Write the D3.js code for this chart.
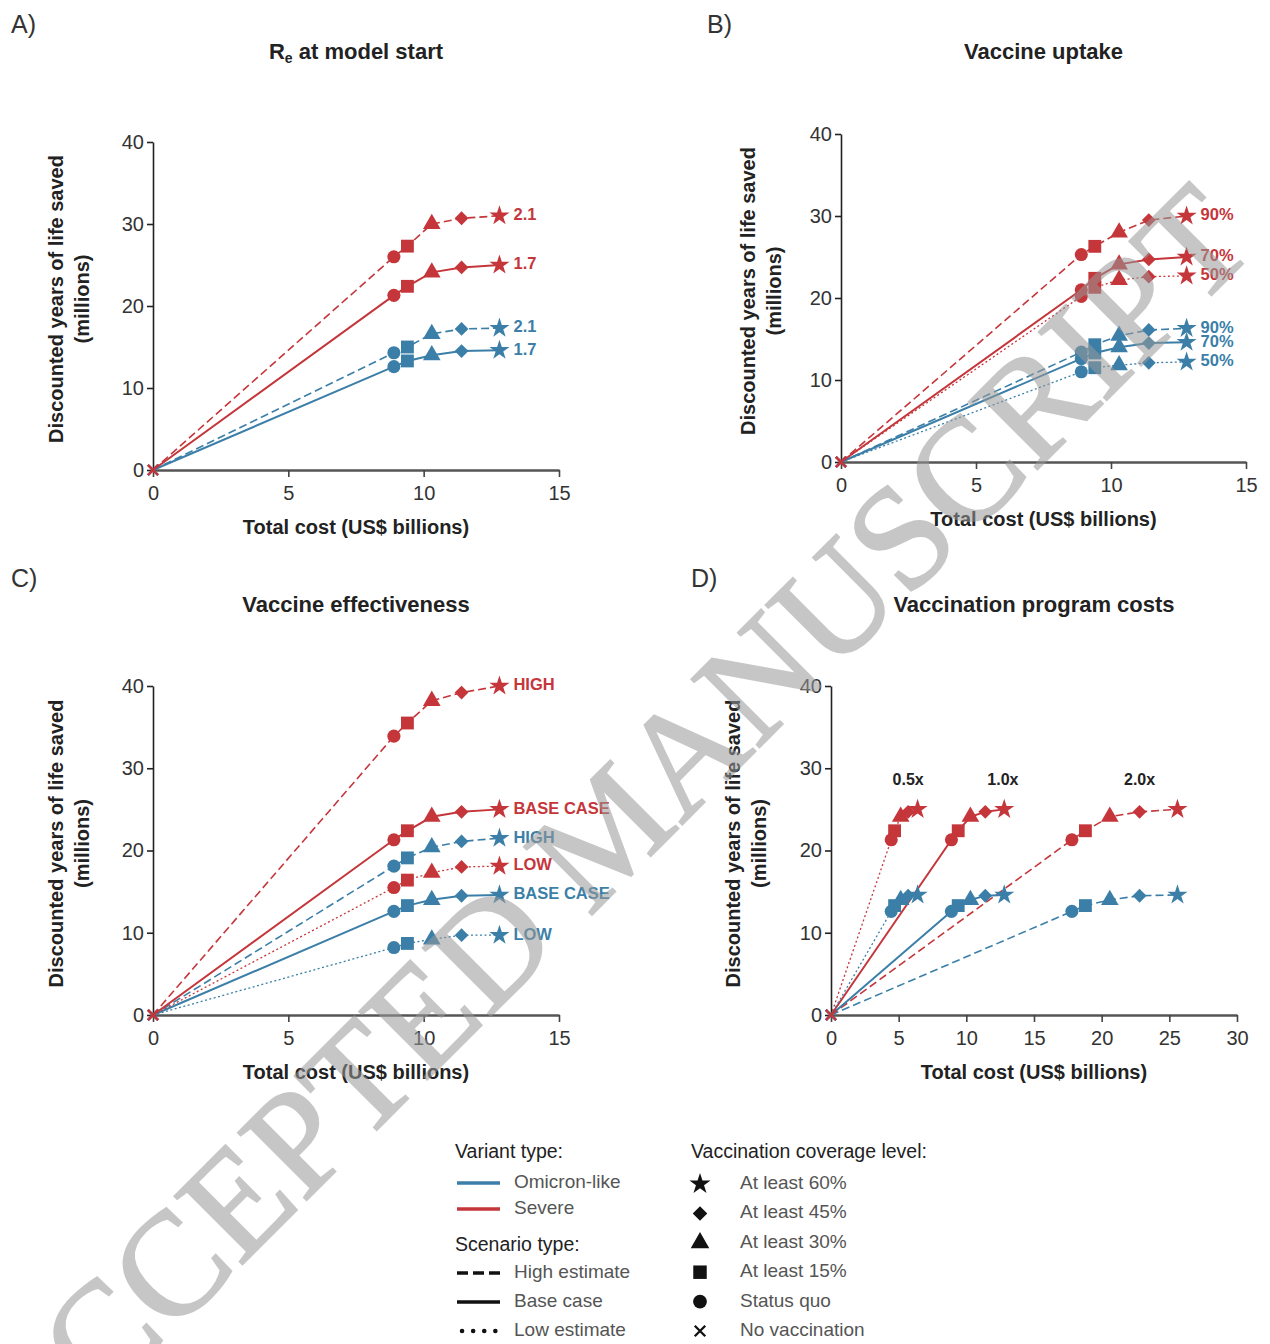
<!DOCTYPE html>
<html>
<head>
<meta charset="utf-8">
<script src="https://cdn.jsdelivr.net/npm/d3@7"></script>
<style>
  body { margin: 0; background: #fff; }
  svg { font-family: "Liberation Sans", Arial, sans-serif; }
</style>
</head>
<body>
<svg id="chart" width="1270" height="1344"></svg>
<script>
// ---- data ----
// points go: no vaccination, status quo, 15%, 30%, 45%, 60%
const coverageLevels = ["No vaccination", "Status quo", "At least 15%", "At least 30%", "At least 45%", "At least 60%"];
const costBase   = [0, 8.9, 9.4, 10.3, 11.4, 12.8];
const costHalf   = [0, 4.45, 4.7, 5.15, 5.7, 6.4];
const costDouble = [0, 17.8, 18.8, 20.6, 22.8, 25.6];

// A) Re at model start
const aSevere21  = [0, 26.0, 27.3, 30.0, 30.7, 31.0];
const aSevere17  = [0, 21.3, 22.4, 24.1, 24.7, 25.0];
const aOmicron21 = [0, 14.3, 15.0, 16.6, 17.2, 17.3];
const aOmicron17 = [0, 12.6, 13.3, 14.0, 14.5, 14.6];

// B) Vaccine uptake
const bSevere90  = [0, 25.3, 26.3, 28.0, 29.5, 30.0];
const bSevere70  = [0, 21.0, 22.4, 24.1, 24.7, 25.0];
const bSevere50  = [0, 20.2, 21.3, 22.2, 22.6, 22.7];
const bOmicron90 = [0, 13.4, 14.3, 15.4, 16.1, 16.3];
const bOmicron70 = [0, 12.6, 13.3, 14.0, 14.5, 14.6];
const bOmicron50 = [0, 11.0, 11.5, 11.8, 12.1, 12.2];

// C) Vaccine effectiveness
const cSevereHigh  = [0, 33.9, 35.5, 38.2, 39.2, 40.0];
const cSevereBase  = [0, 21.3, 22.4, 24.1, 24.7, 25.0];
const cSevereLow   = [0, 15.5, 16.4, 17.3, 18.0, 18.1];
const cOmicronHigh = [0, 18.1, 19.1, 20.4, 21.1, 21.5];
const cOmicronBase = [0, 12.6, 13.3, 14.0, 14.5, 14.6];
const cOmicronLow  = [0, 8.2, 8.7, 9.2, 9.7, 9.7];

// D) Vaccination program costs
const dSevere  = [0, 21.3, 22.4, 24.1, 24.7, 25.0];
const dOmicron = [0, 12.6, 13.3, 14.0, 14.5, 14.6];
const dGroupLabels = ["0.5x", "1.0x", "2.0x"];
const dGroupLabelCost = [5.7, 12.7, 22.8];
const dGroupLabelLife = 28.5;

const yTicks = [0, 10, 20, 30, 40];
const xTicks15 = [0, 5, 10, 15];
const xTicks30 = [0, 5, 10, 15, 20, 25, 30];

const variantTypes = ["Omicron-like", "Severe"];
const scenarioTypes = ["High estimate", "Base case", "Low estimate"];

// ---- styles ----
const RED = "#c5363b", BLUE = "#3b7fa8";
const dash = {high: "8,4", base: null, low: "2,2.5"};
const widthOf = {high: 1.6, base: 2, low: 1.3};
// marker for each point, in coverage order
const markerTypes = ["x", "circle", "square", "triangle", "diamond", "star"];

const svg = d3.select("#chart");

function markerPath(kind) {
  if (kind === "circle") return d3.symbol(d3.symbolCircle, 135)();
  if (kind === "square") return d3.symbol(d3.symbolSquare, 165)();
  if (kind === "triangle") return d3.symbol(d3.symbolTriangle, 135)();
  if (kind === "diamond") return d3.symbol(d3.symbolSquare, 95)();
  if (kind === "star") return d3.symbol(d3.symbolStar, 125)();
  return "M-5,-5L5,5M-5,5L5,-5";
}

function drawMarker(g, kind, x, y, color, scale) {
  const s = scale || 1;
  const p = g.append("path")
    .attr("d", markerPath(kind))
    .attr("transform", `translate(${x},${y}) scale(${s})` + (kind === "diamond" ? " rotate(45)" : ""));
  if (kind === "x") {
    p.attr("fill", "none").attr("stroke", color).attr("stroke-width", 2.2);
  } else {
    p.attr("fill", color);
  }
  return p;
}

function drawPanel(cfg) {
  const g = svg.append("g");
  const x = d3.scaleLinear().domain([0, cfg.xMax]).range([cfg.x0, cfg.x1]);
  const y = d3.scaleLinear().domain([0, 40]).range([cfg.yBottom, cfg.yTop]);

  // panel letter + title
  g.append("text").attr("x", cfg.letterX).attr("y", cfg.letterY)
    .attr("font-size", 25).attr("fill", "#333").text(cfg.letter);
  g.append("text").attr("x", (cfg.x0 + cfg.x1) / 2).attr("y", cfg.titleY)
    .attr("text-anchor", "middle").attr("dominant-baseline", "middle")
    .attr("font-size", 22).attr("font-weight", "bold").attr("fill", "#222")
    .call(t => {
      if (cfg.titleSub) {
        t.append("tspan").text("R");
        t.append("tspan").attr("font-size", 14).attr("dy", 6).text("e");
        t.append("tspan").attr("dy", -6).text(" at model start");
      } else {
        t.text(cfg.title);
      }
    });

  // axes
  const ya = g.append("g").attr("transform", `translate(${cfg.x0},0)`)
    .call(d3.axisLeft(y).tickValues(yTicks).tickSize(6).tickPadding(3).tickSizeOuter(0));
  ya.select(".domain").attr("stroke", "#222").attr("stroke-width", 1.6);
  ya.selectAll(".tick line").attr("stroke", "#222").attr("stroke-width", 1.6);
  ya.selectAll(".tick text").attr("font-size", 20).attr("fill", "#333")
    .attr("font-family", "Liberation Sans, Arial, sans-serif");

  const xa = g.append("g").attr("transform", `translate(0,${cfg.yBottom})`)
    .call(d3.axisBottom(x).tickValues(cfg.xTicks).tickSize(7).tickPadding(9).tickSizeOuter(0));
  xa.select(".domain").attr("stroke", "#555").attr("stroke-width", 2.6);
  xa.selectAll(".tick line").attr("stroke", "#444").attr("stroke-width", 1.6);
  xa.selectAll(".tick text").attr("font-size", 20).attr("fill", "#333")
    .attr("font-family", "Liberation Sans, Arial, sans-serif");

  // axis titles
  g.append("text").attr("x", (cfg.x0 + cfg.x1) / 2).attr("y", cfg.yBottom + 59)
    .attr("text-anchor", "middle").attr("dominant-baseline", "middle")
    .attr("font-size", 20).attr("font-weight", "bold").attr("fill", "#222")
    .text("Total cost (US$ billions)");
  const yMid = (cfg.yTop + cfg.yBottom) / 2 - 7;
  const yl = g.append("text")
    .attr("transform", `translate(${cfg.x0 - cfg.ylabOff},${yMid}) rotate(-90)`)
    .attr("text-anchor", "middle").attr("dominant-baseline", "middle")
    .attr("font-size", 20).attr("font-weight", "bold").attr("fill", "#222");
  yl.append("tspan").attr("x", 0).attr("y", 0).text("Discounted years of life saved");
  yl.append("tspan").attr("x", 0).attr("y", 26).text("(millions)");

  // lines
  const line = d3.line().x(d => x(d[0])).y(d => y(d[1]));
  cfg.series.forEach(s => {
    const pts = s.cost.map((c, i) => [c, s.life[i]]);
    g.append("path").datum(pts)
      .attr("fill", "none")
      .attr("stroke", s.color)
      .attr("stroke-width", widthOf[s.style])
      .attr("stroke-dasharray", dash[s.style])
      .attr("d", line);
  });
  // markers
  cfg.series.forEach(s => {
    s.cost.forEach((c, i) => {
      drawMarker(g, markerTypes[i], x(c), y(s.life[i]), s.color);
    });
    if (s.label) {
      const last = s.cost.length - 1;
      g.append("text").attr("x", x(s.cost[last]) + 14).attr("y", y(s.life[last]))
        .attr("dominant-baseline", "middle")
        .attr("font-size", 16.5).attr("font-weight", "bold").attr("fill", s.color)
        .text(s.label);
    }
  });
  return {g, x, y};
}

// ---- panels ----
drawPanel({
  letter: "A)", letterX: 11, letterY: 33, titleSub: true, titleY: 53,
  x0: 153, x1: 559, yTop: 142, yBottom: 470, xMax: 15, xTicks: xTicks15, ylabOff: 95,
  series: [
    {cost: costBase, life: aOmicron17, color: BLUE, style: "base", label: "1.7"},
    {cost: costBase, life: aOmicron21, color: BLUE, style: "high", label: "2.1"},
    {cost: costBase, life: aSevere17, color: RED, style: "base", label: "1.7"},
    {cost: costBase, life: aSevere21, color: RED, style: "high", label: "2.1"}
  ]
});

drawPanel({
  letter: "B)", letterX: 707, letterY: 33, title: "Vaccine uptake", titleY: 53,
  x0: 841, x1: 1246, yTop: 134, yBottom: 462, xMax: 15, xTicks: xTicks15, ylabOff: 91,
  series: [
    {cost: costBase, life: bOmicron50, color: BLUE, style: "low", label: "50%"},
    {cost: costBase, life: bOmicron70, color: BLUE, style: "base", label: "70%"},
    {cost: costBase, life: bOmicron90, color: BLUE, style: "high", label: "90%"},
    {cost: costBase, life: bSevere50, color: RED, style: "low", label: "50%"},
    {cost: costBase, life: bSevere70, color: RED, style: "base", label: "70%"},
    {cost: costBase, life: bSevere90, color: RED, style: "high", label: "90%"}
  ]
});

drawPanel({
  letter: "C)", letterX: 11, letterY: 587, title: "Vaccine effectiveness", titleY: 606,
  x0: 153, x1: 559, yTop: 686, yBottom: 1015, xMax: 15, xTicks: xTicks15, ylabOff: 95,
  series: [
    {cost: costBase, life: cOmicronLow, color: BLUE, style: "low", label: "LOW"},
    {cost: costBase, life: cOmicronBase, color: BLUE, style: "base", label: "BASE CASE"},
    {cost: costBase, life: cOmicronHigh, color: BLUE, style: "high", label: "HIGH"},
    {cost: costBase, life: cSevereLow, color: RED, style: "low", label: "LOW"},
    {cost: costBase, life: cSevereBase, color: RED, style: "base", label: "BASE CASE"},
    {cost: costBase, life: cSevereHigh, color: RED, style: "high", label: "HIGH"}
  ]
});

const pD = drawPanel({
  letter: "D)", letterX: 691, letterY: 587, title: "Vaccination program costs", titleY: 606,
  x0: 831, x1: 1237, yTop: 686, yBottom: 1015, xMax: 30, xTicks: xTicks30, ylabOff: 96,
  series: [
    {cost: costDouble, life: dOmicron, color: BLUE, style: "high"},
    {cost: costDouble, life: dSevere, color: RED, style: "high"},
    {cost: costBase, life: dOmicron, color: BLUE, style: "base"},
    {cost: costBase, life: dSevere, color: RED, style: "base"},
    {cost: costHalf, life: dOmicron, color: BLUE, style: "low"},
    {cost: costHalf, life: dSevere, color: RED, style: "low"}
  ]
});
dGroupLabels.forEach((t, i) => {
  pD.g.append("text").attr("x", pD.x(dGroupLabelCost[i])).attr("y", pD.y(dGroupLabelLife))
    .attr("text-anchor", "middle").attr("dominant-baseline", "middle")
    .attr("font-size", 16).attr("font-weight", "bold").attr("fill", "#222").text(t);
});

// ---- legend ----
const leg = svg.append("g").attr("font-size", 19);
leg.append("text").attr("x", 455).attr("y", 1153).attr("dominant-baseline", "middle")
  .attr("fill", "#222").attr("font-size", 19.5).text("Variant type:");
[BLUE, RED].forEach((c, i) => {
  const yy = 1183 + i * 26;
  leg.append("line").attr("x1", 457).attr("x2", 500).attr("y1", yy).attr("y2", yy)
    .attr("stroke", c).attr("stroke-width", 3.5);
  leg.append("text").attr("x", 514).attr("y", yy).attr("dominant-baseline", "middle")
    .attr("fill", "#555").text(variantTypes[i]);
});
leg.append("text").attr("x", 455).attr("y", 1246).attr("dominant-baseline", "middle")
  .attr("fill", "#222").attr("font-size", 19.5).text("Scenario type:");
const legDash = ["11,5", null, "0.1,11"];
scenarioTypes.forEach((t, i) => {
  const yy = 1273 + i * 29;
  leg.append("line").attr("x1", i === 2 ? 462 : 457).attr("x2", 500).attr("y1", yy).attr("y2", yy)
    .attr("stroke", "#111").attr("stroke-width", i === 2 ? 4.5 : 3.5)
    .attr("stroke-dasharray", legDash[i])
    .attr("stroke-linecap", i === 2 ? "round" : "butt");
  leg.append("text").attr("x", 514).attr("y", yy).attr("dominant-baseline", "middle")
    .attr("fill", "#555").text(t);
});
leg.append("text").attr("x", 691).attr("y", 1153).attr("dominant-baseline", "middle")
  .attr("fill", "#222").attr("font-size", 19.5).text("Vaccination coverage level:");
const legOrder = coverageLevels.map((t, i) => i).reverse();
legOrder.forEach((idx, row) => {
  const yy = 1184 + row * 29.4;
  drawMarker(leg, markerTypes[idx], 700, yy, "#111", 1.05);
  leg.append("text").attr("x", 740).attr("y", yy).attr("dominant-baseline", "middle")
    .attr("fill", "#555").text(coverageLevels[idx]);
});

// ---- watermark ----
svg.append("text")
  .attr("transform", "translate(606,828) rotate(-45)")
  .attr("text-anchor", "middle").attr("dy", "0.35em")
  .attr("font-family", "Liberation Serif, Times New Roman, serif")
  .attr("font-size", 147).attr("fill", "#999").attr("opacity", 0.55)
  .attr("stroke", "#999").attr("stroke-width", 2)
  .style("pointer-events", "none")
  .text("ACCEPTED MANUSCRIPT");
</script>
</body>
</html>
